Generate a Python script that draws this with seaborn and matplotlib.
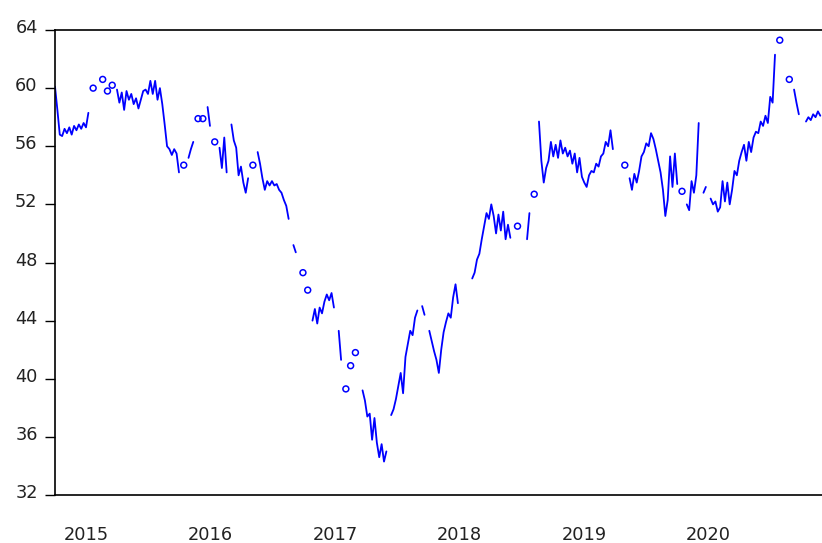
#Importing the libraries
import numpy as np
import pandas as pd
import seaborn as sns
import matplotlib.pyplot as plt
from matplotlib.transforms import ScaledTranslation

nan = np.nan

vals_2014 = [60.1, 58.5, 56.8, 56.7, 57.2, 56.9, 57.3, 56.8, 57.4, 57.1, 57.5, 57.2, 57.6, 57.3]
vals_2015 = [58.3, nan, 60.0, nan, nan, nan, 60.6, nan, 59.8, nan, 60.2, nan,
             59.9, 59.0, 59.7, 58.5, 59.8, 59.2, 59.6, 58.9, 59.3, 58.6, 59.2, 59.8, 59.9, 59.6,
             60.5, 59.6, 60.5, 59.2, 60.0, 58.9,
             57.5, 56.0, 55.8, 55.4, 55.8, 55.5, 54.2, nan,
             54.7, nan, 55.2, 55.8, 56.3, nan, 57.9, nan, 57.9, nan, 58.7, 57.4]
vals_2016 = [nan, 56.3, nan, 55.9, 54.5, 56.6, 54.2, nan, 57.5, 56.4,
             55.9, 54.0, 54.6, 53.5, 52.8, 53.8, nan, 54.7, nan, 55.6,
             54.8, 53.8, 53.0, 53.6, 53.3, 53.6, 53.3, 53.4, 53.0, 52.8,
             52.3, 51.9, 51.0, nan, 49.2, 48.7, nan, nan, 47.3, nan,
             46.1, nan, 44.0, 44.8, 43.8, 44.9, 44.5, 45.3, 45.8, 45.4, 45.9, 44.9]
vals_2017 = [nan, 43.3, 41.3, nan, 39.3, nan, 40.9, nan, 41.8, nan,
             nan, 39.2, 38.5, 37.4, 37.6, 35.8, 37.3, 35.6, 34.6, 35.5,
             34.3, 35.0, nan, 37.5, 37.9, 38.6, 39.5, 40.4, 39.0, 41.5,
             42.4, 43.3, 43.0, 44.2, 44.7, nan, 45.0, 44.4, nan, 43.3,
             42.6, 41.9, 41.3, 40.4, 42.0, 43.2, 43.9, 44.5, 44.2, 45.6, 46.5, 45.2]
vals_2018 = [nan, nan, nan, nan, nan, 46.9, 47.3, 48.2, 48.6, 49.6,
             50.5, 51.4, 51.0, 52.0, 51.2, 50.0, 51.3, 50.2, 51.5, 49.6,
             50.6, 49.7, nan, nan, 50.5, nan, nan, nan, 49.6, 51.4,
             nan, 52.7, nan, 57.7, 55.0, 53.5, 54.5, 55.0, 56.3, 55.3,
             56.1, 55.2, 56.4, 55.5, 55.9, 55.3, 55.7, 54.8, 55.5, 54.2, 55.2, 53.9]
vals_2019 = [53.5, 53.2, 54.0, 54.3, 54.2, 54.8, 54.6, 55.3, 55.5, 56.3,
             56.0, 57.1, 55.8, nan, nan, nan, nan, 54.7, nan, 53.8,
             53.0, 54.1, 53.5, 54.3, 55.3, 55.6, 56.2, 56.0, 56.9, 56.5,
             55.8, 55.0, 54.2, 53.0, 51.2, 52.3, 55.3, 53.2, 55.5, 53.4,
             nan, 52.9, nan, 52.0, 51.6, 53.6, 52.8, 54.0, 57.6, nan, 52.8, 53.2]
vals_2020 = [nan, 52.4, 52.0, 52.2, 51.5, 51.8, 53.6, 52.2, 53.5, 52.0,
             53.0, 54.3, 54.0, 55.0, 55.6, 56.1, 55.0, 56.3, 55.6, 56.6,
             57.0, 56.9, 57.7, 57.4, 58.1, 57.6, 59.4, 59.0, 62.3, nan,
             63.3, nan, nan, nan, 60.6, nan, 59.9, 59.0, 58.2, nan,
             nan, 57.7, 58.0, 57.8, 58.2, 58.0, 58.4, 58.1]

values = vals_2014 + vals_2015 + vals_2016 + vals_2017 + vals_2018 + vals_2019 + vals_2020
year_labels = ['2015', '2016', '2017', '2018', '2019', '2020']
y_ticks = [32, 36, 40, 44, 48, 52, 56, 60, 64]

dates = pd.date_range('2014-10-01', periods=len(values), freq='7D')
df = pd.DataFrame({'date': dates, 'value': values})

# every run of non-missing values becomes its own line piece
df['seg'] = df['value'].isna().cumsum()
df = df.dropna()
seg_size = df.groupby('seg')['value'].transform('size')
lines = df[seg_size > 1]
singles = df[seg_size == 1]

sns.set_style('white')
plt.rcParams['font.family'] = ['DejaVu Sans']

fig = plt.figure(figsize=(8.22, 5.43), dpi=100)
ax = fig.add_axes([55 / 822, 1 - 495 / 543, 1 - 55 / 822, 465 / 543])

sns.lineplot(data=lines, x='date', y='value', units='seg', estimator=None,
             color='blue', linewidth=1.3, ax=ax)
sns.scatterplot(data=singles, x='date', y='value', marker='o', s=18,
                color='blue', edgecolor='blue', linewidth=1.1, ax=ax, zorder=3)
ax.collections[-1].set_facecolor('none')

ax.set_ylim(32, 64)
ax.set_yticks(y_ticks)
ax.set_xlim(pd.Timestamp('2014-10-01'), pd.Timestamp('2020-11-30'))
ax.set_xticks([pd.Timestamp(y + '-01-01') for y in year_labels])
ax.set_xticklabels(year_labels)
ax.set_xlabel('')
ax.set_ylabel('')

ax.tick_params(axis='y', direction='out', length=7, width=1, color='black',
               pad=5.5, labelsize=12.8, labelcolor='#222222', left=True)
ax.tick_params(axis='x', length=0, pad=22, labelsize=12.8, labelcolor='#222222')

# numbers on the y axis sit a little above their tick marks
for lab in ax.get_yticklabels():
    lab.set_transform(lab.get_transform() + ScaledTranslation(0, 0.04, fig.dpi_scale_trans))

for side in ['left', 'top', 'bottom']:
    ax.spines[side].set_color('black')
    ax.spines[side].set_linewidth(1.2)
ax.spines['right'].set_visible(False)

plt.savefig('out.png', dpi=100)
